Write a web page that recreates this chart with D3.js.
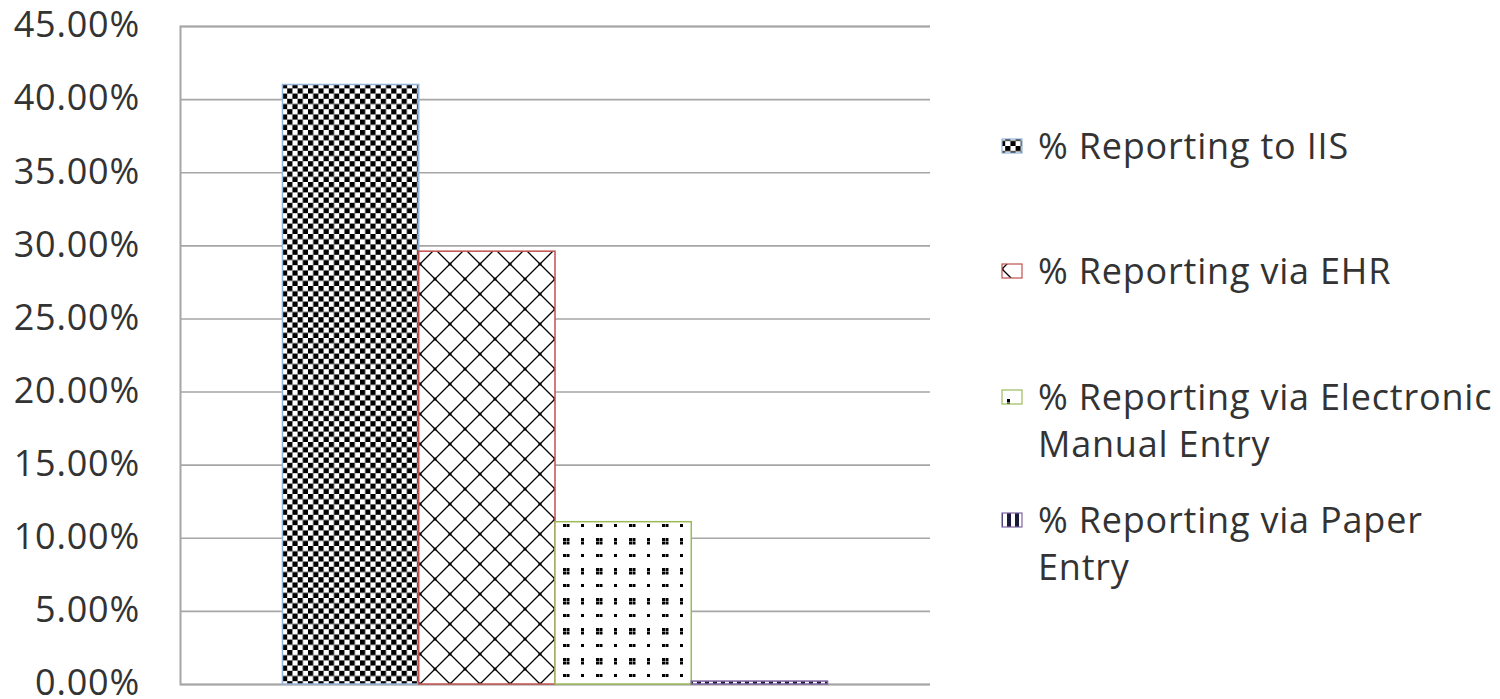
<!DOCTYPE html>
<html>
<head>
<meta charset="utf-8">
<script src="https://cdn.jsdelivr.net/npm/d3@7"></script>
<style>
  html, body { margin: 0; padding: 0; background: #fff; }
  svg { display: block; }
  text { font-family: "Open Sans", sans-serif; fill: #333; }
</style>
</head>
<body>
<svg id="chart" width="1500" height="699"></svg>
<script>
// Share of providers by reporting method
const series = [
  "% Reporting to IIS",
  "% Reporting via EHR",
  "% Reporting via Electronic Manual Entry",
  "% Reporting via Paper Entry"
];
const values = [0.41, 0.296, 0.111, 0.002];
const legendLines = [
  ["% Reporting to IIS"],
  ["% Reporting via EHR"],
  ["% Reporting via Electronic", "Manual Entry"],
  ["% Reporting via Paper", "Entry"]
];
const yTicks = [0, 0.05, 0.10, 0.15, 0.20, 0.25, 0.30, 0.35, 0.40, 0.45];
const borderColors = ["#95b3d7", "#c0504d", "#9bbb59", "#8064a2"];
const patternIds = ["pChecker", "pCross", "pDots", "pGrid"];

const svg = d3.select("#chart");
const margin = { left: 180, top: 26, right: 570, bottom: 15 };
const W = 1500, H = 699;
const plotW = W - margin.left - margin.right;
const plotH = H - margin.top - margin.bottom;

// Patterned fills
const defs = svg.append("defs");
{
  const p = defs.append("pattern").attr("id", "pChecker")
    .attr("patternUnits", "userSpaceOnUse").attr("width", 10.4).attr("height", 10.4)
    .attr("x", 284).attr("y", 0);
  p.append("rect").attr("width", 10.4).attr("height", 10.4).attr("fill", "#fff");
  p.append("rect").attr("width", 5.2).attr("height", 5.2).attr("fill", "#000");
  p.append("rect").attr("x", 5.2).attr("y", 5.2).attr("width", 5.2).attr("height", 5.2).attr("fill", "#000");
}
{
  const p = defs.append("pattern").attr("id", "pCross")
    .attr("patternUnits", "userSpaceOnUse").attr("width", 30).attr("height", 30)
    .attr("x", 435).attr("y", 253);
  p.append("rect").attr("width", 30).attr("height", 30).attr("fill", "#fff");
  p.append("path").attr("d", "M0,0L30,30M30,0L0,30").attr("stroke", "#000").attr("stroke-width", 1.3);
  p.append("circle").attr("cx", 15).attr("cy", 15).attr("r", 1.6).attr("fill", "#000");
  [[0,0],[30,0],[0,30],[30,30]].forEach(([x, y]) =>
    p.append("circle").attr("cx", x).attr("cy", y).attr("r", 1.6).attr("fill", "#000"));
}
{
  const p = defs.append("pattern").attr("id", "pDots")
    .attr("patternUnits", "userSpaceOnUse").attr("width", 33).attr("height", 30)
    .attr("x", 566).attr("y", 528);
  p.append("rect").attr("width", 33).attr("height", 30).attr("fill", "#fff");
  const dot = (x, y) => p.append("rect").attr("x", x).attr("y", y).attr("width", 3).attr("height", 3).attr("fill", "#000");
  dot(0, 0);
  dot(15, 0); dot(18.5, 0);
  dot(0, 14); dot(0, 17.5);
  dot(15, 14); dot(18.5, 14); dot(15, 17.5); dot(18.5, 17.5);
}
{
  const p = defs.append("pattern").attr("id", "pGrid")
    .attr("patternUnits", "userSpaceOnUse").attr("width", 8).attr("height", 8)
    .attr("x", 693).attr("y", 0);
  p.append("rect").attr("width", 8).attr("height", 8).attr("fill", "#fff");
  p.append("rect").attr("width", 4).attr("height", 8).attr("fill", "#1a1a3a");
}

const g = svg.append("g").attr("transform", `translate(${margin.left},${margin.top})`);

const y = d3.scaleLinear().domain([0, 0.45]).range([plotH, 0]);
const x0 = d3.scaleBand().domain(["all"]).range([0, plotW]).paddingInner(0).paddingOuter(0.188);
const x1 = d3.scaleBand().domain(series).range([0, x0.bandwidth()]);

// Horizontal gridlines and value axis
const yAxis = d3.axisLeft(y).tickValues(yTicks).tickSize(-plotW).tickPadding(40)
  .tickFormat(d => d3.format(".2%")(d));
const ya = g.append("g").call(yAxis);
ya.select(".domain").attr("stroke", "#a6a6a6").attr("stroke-width", 2);
ya.selectAll(".tick line").attr("stroke", "#a6a6a6").attr("stroke-width", 1.6);
ya.selectAll(".tick text").attr("font-size", 36).attr("fill", "#333")
  .attr("letter-spacing", 0.8).attr("dy", "0.3em")
  .attr("font-family", "\"Open Sans\", sans-serif");

// Bars
g.selectAll("rect.bar").data(series).join("rect")
  .attr("class", "bar")
  .attr("x", d => x0("all") + x1(d))
  .attr("width", x1.bandwidth())
  .attr("y", (d, i) => y(values[i]))
  .attr("height", (d, i) => y(0) - y(values[i]))
  .attr("fill", (d, i) => `url(#${patternIds[i]})`)
  .attr("stroke", (d, i) => borderColors[i])
  .attr("stroke-width", 1.5);

// Legend
const legendX = 1002;
const legendY = [146, 271, 397, 520];
const lg = svg.append("g");
series.forEach((s, i) => {
  const item = lg.append("g").attr("transform", `translate(${legendX},${legendY[i]})`);
  item.append("rect").attr("x", 0).attr("y", -7).attr("width", 20).attr("height", 14)
    .attr("fill", `url(#${patternIds[i]})`)
    .attr("stroke", borderColors[i]).attr("stroke-width", 1.2);
  const t = item.append("text").attr("x", 36).attr("y", 0)
    .attr("font-size", 36).attr("letter-spacing", 0.8).attr("fill", "#333");
  legendLines[i].forEach((line, j) => {
    t.append("tspan").attr("x", 36).attr("dy", j === 0 ? "0.35em" : "1.33em").text(line);
  });
});
</script>
</body>
</html>
